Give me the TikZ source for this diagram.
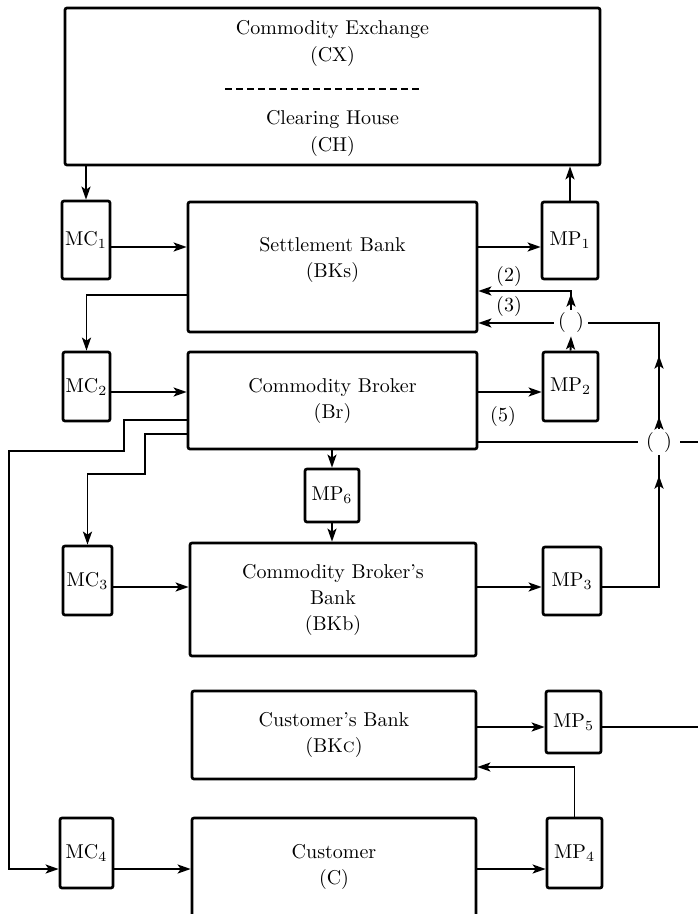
\documentclass[tikz,border=0pt]{standalone}
\usepackage{tikz}
\usetikzlibrary{arrows.meta,decorations.markings}

\begin{document}
\begin{tikzpicture}[x=0.5pt, y=-0.5pt,
    >={Stealth[length=6.5pt,width=4.5pt,inset=1.5pt]},
    bigbox/.style={draw, line width=1.35pt, rounded corners=1pt, align=center, font=\fontsize{10}{13}\selectfont, inner sep=0pt},
    smallbox/.style={draw, line width=1.35pt, rounded corners=1pt, inner sep=0pt},
    boxtext/.style={align=center, font=\fontsize{10}{13.5}\selectfont, inner sep=0pt},
    paren/.style={inner xsep=2pt, inner ysep=1.5pt},
    flow/.style={line width=0.95pt, ->},
    line/.style={line width=0.95pt},
    tipat/.style={line width=0.95pt, postaction={decorate}, decoration={markings, mark=at position #1 with {\arrow{>}}}}]
  \useasboundingbox (0,0) rectangle (698,914);

  % Exchange / clearing house
  \node[bigbox, minimum width=267.5pt, minimum height=78.5pt] (CX) at (332.5,86.5) {};
  \node[boxtext] (CXtxt) at (332.5,43.5) {Commodity Exchange\\(CX)};
  \node[boxtext] (CHtxt) at (332.5,133.5) {Clearing House\\(CH)};
  \draw[line width=0.6pt, dash pattern=on 3.5pt off 2pt] (225,89) -- (421,89);

  % Main boxes
  \node[bigbox, minimum width=144.5pt, minimum height=65pt] (BKs) at (332.5,267) {Settlement Bank\\(BKs)\\[-3pt]\mbox{}};
  \node[bigbox, minimum width=144.5pt, minimum height=48.5pt] (Br) at (332.5,400.5) {Commodity Broker\\(Br)};
  \node[bigbox, minimum width=143pt, minimum height=56.5pt] (BKb) at (333,599.5) {Commodity Broker's\\Bank\\(BKb)};
  \node[bigbox, minimum width=142pt, minimum height=44pt] (BKc) at (334,735) {Customer's Bank\\(BK\textsc{c})};
  \node[bigbox, minimum width=142pt, minimum height=49pt] (C) at (334,867) {Customer\\(C)};

  % Payment orders
  \node[smallbox, minimum width=24pt, minimum height=39pt] (MC1) at (86,240) {MC$_1$};
  \node[smallbox, minimum width=28pt, minimum height=38.5pt] (MP1) at (570,240.5) {MP$_1$};
  \node[smallbox, minimum width=23.5pt, minimum height=34.5pt] (MC2) at (86.5,386.5) {MC$_2$};
  \node[smallbox, minimum width=27.5pt, minimum height=34.5pt] (MP2) at (570.5,386.5) {MP$_2$};
  \node[smallbox, minimum width=27pt, minimum height=26.5pt] (MP6) at (332,495.5) {MP$_6$};
  \node[smallbox, minimum width=24.5pt, minimum height=34.5pt] (MC3) at (87.5,580.5) {MC$_3$};
  \node[smallbox, minimum width=29pt, minimum height=34pt] (MP3) at (572,581) {MP$_3$};
  \node[smallbox, minimum width=27.5pt, minimum height=31pt] (MP5) at (573.5,722) {MP$_5$};
  \node[smallbox, minimum width=26.5pt, minimum height=35pt] (MC4) at (86.5,853) {MC$_4$};
  \node[smallbox, minimum width=27.5pt, minimum height=35pt] (MP4) at (574.5,853) {MP$_4$};

  % Junctions and labels
  \node[paren] (p1) at (571,323) {(\hspace{5pt})};
  \node[paren, inner xsep=4pt] (p2) at (659,442) {(\hspace{5pt})};
  \node (lbl2) at (509,277) {(2)};
  \node (lbl3) at (509,307) {(3)};
  \node (lbl5) at (503,416) {(5)};

  % Levels of the connectors
  \coordinate (r1) at (0,247);
  \coordinate (r2) at (0,392);
  \coordinate (r3) at (0,587);
  \coordinate (r4) at (0,869);
  \coordinate (r5) at (0,727);
  \coordinate (k2) at (0,291);
  \coordinate (b1) at (0,295);
  \coordinate (b2) at (0,420);
  \coordinate (b3) at (0,434);
  \coordinate (b5) at (0,767);
  \coordinate (e1) at (698,442);
  \coordinate (e2) at (698,727);

  % Exchange and settlement bank
  \draw[flow] (MC1.north |- CX.south) -- (MC1.north);
  \draw[flow] (MP1.north) -- (MP1.north |- CX.south);
  \draw[flow] (MC1.east |- r1) -- (BKs.west |- r1);
  \draw[flow] (BKs.east |- r1) -- (MP1.west |- r1);
  \draw[flow] (BKs.west |- b1) -| (MC2.north);

  % Back to the settlement bank
  \draw[flow] (MP2.north) -- (p1.south);
  \draw[flow] (p1.west) -- (p1.west -| BKs.east);
  \draw[tipat=8pt, ->] (p1.north) |- (BKs.east |- k2);
  \draw[line, postaction={decorate}, decoration={markings, mark=at position 6pt with {\arrow{>}}, mark=at position 36.5pt with {\arrow{>}}}] (p2.north) |- (p1.east);
  \draw[tipat=84pt] (MP3.east |- r3) -| (p2.south);

  % Broker
  \draw[flow] (MC2.east |- r2) -- (Br.west |- r2);
  \draw[flow] (Br.east |- r2) -- (MP2.west |- r2);
  \draw[line] (p2.west -| Br.east) -- (p2.west);
  \draw[line] (p2.east) -- (e1);
  \draw[flow] (MP6.north |- Br.south) -- (MP6.north);
  \draw[flow] (MP6.south) -- (MP6.south |- BKb.north);
  \draw[flow] (Br.west |- b2) -| (124,451) -| (9,869) -- (MC4.west |- r4);
  \draw[flow] (Br.west |- b3) -| (145,474) -| (MC3.north);

  % Broker's bank
  \draw[flow] (MC3.east |- r3) -- (BKb.west |- r3);
  \draw[flow] (BKb.east |- r3) -- (MP3.west |- r3);

  % Customer side
  \draw[flow] (BKc.east |- r5) -- (MP5.west |- r5);
  \draw[line] (MP5.east |- r5) -- (e2);
  \draw[flow] (MP4.north) |- (BKc.east |- b5);
  \draw[flow] (MC4.east |- r4) -- (C.west |- r4);
  \draw[flow] (C.east |- r4) -- (MP4.west |- r4);
\end{tikzpicture}
\end{document}
